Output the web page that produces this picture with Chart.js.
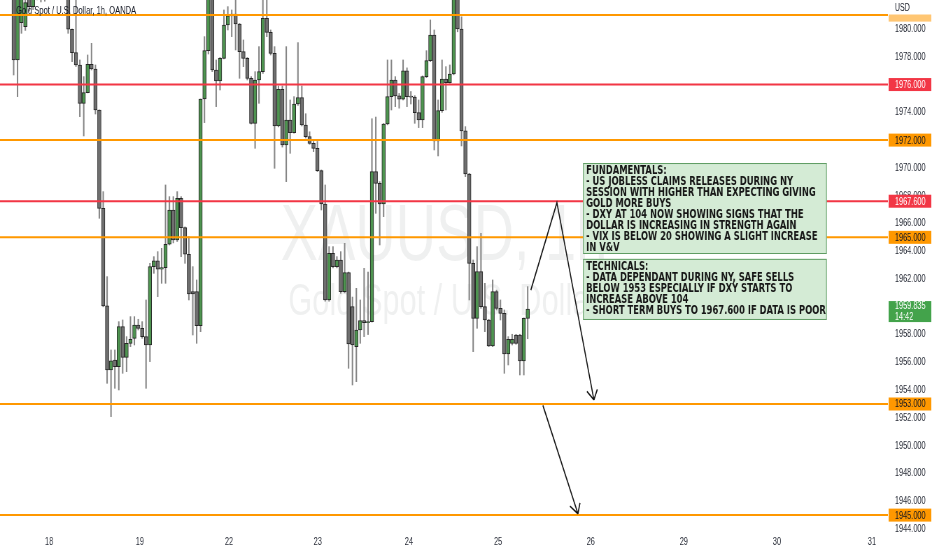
<!DOCTYPE html>
<html><head><meta charset="utf-8">
<script src="https://cdn.jsdelivr.net/npm/chart.js@4/dist/chart.umd.min.js"></script>
<style>
html,body{margin:0;padding:0;background:#fff;overflow:hidden;width:932px;height:550px}
#wrap{position:absolute;left:0;top:0;width:1332px;height:550px;transform:scaleX(0.6997);transform-origin:0 0}
canvas{display:block}
</style></head><body>
<div id="wrap"><canvas id="c" width="1332" height="550"></canvas></div>
<script>
// ---------------- DATA ----------------
const firstBar = 3; // hourly bar index of the first candle
const opens = [
 1983.5,1977.77,1980.46,1980.17,1982.3,1981.61,1982.5,1983.2,1982.6,1983.0,
 1984.2,1983.8,1984.3,1984.0,1983.0,1979.98,1978.30,1977.41,1974.65,1975.42,
 1977.46,1977.12,1974.17,1967.09,1960.06,1955.45,1956.17,1955.69,1958.57,1956.36,
 1957.37,1957.73,1958.69,1958.45,1957.85,1957.25,1962.89,1963.30,1962.70,1962.82,
 1964.50,1966.97,1964.81,1967.81,1965.70,1963.78,1961.09,1961.09,1958.64,1974.96,
 1978.44,1982.5,1977.05,1976.26,1977.89,1980.29,1980.94,1981.08,1980.36,1978.37,
 1977.89,1976.45,1973.21,1976.33,1976.93,1980.77,1979.76,1978.25,1973.02,1975.66,
 1971.65,1973.45,1972.54,1974.60,1975.06,1973.09,1972.25,1971.77,1971.41,1969.80,
 1967.40,1960.49,1963.85,1962.89,1963.37,1961.09,1962.46,1960.01,1957.13,1958.33,
 1959.00,1958.86,1958.93,1969.73,1968.89,1967.40,1973.16,1975.13,1976.33,1975.18,
 1974.94,1976.98,1975.13,1975.10,1973.98,1973.45,1976.57,1977.72,1979.57,1971.94,
 1974.12,1976.40,1976.14,1976.76,1982.3,1980.00,1972.66,1969.56,1963.13,1959.17,
 1962.53,1960.01,1959.05,1957.18,1961.09,1959.89,1959.53,1956.60,1957.37,1957.97,
 1957.97,1956.10,1959.17
];
const highs = [
 1984.0,1983.0,1983.0,1982.5,1983.0,1983.2,1983.6,1984.0,1983.4,1984.5,
 1985.0,1984.6,1985.2,1984.4,1984.0,1980.00,1982.5,1977.77,1976.57,1978.13,
 1978.97,1977.41,1974.17,1968.29,1962.17,1956.89,1956.89,1958.93,1959.05,1957.85,
 1959.29,1959.29,1959.10,1958.93,1960.49,1963.13,1963.61,1963.97,1964.21,1968.77,
 1967.93,1967.93,1968.29,1967.93,1965.75,1965.05,1962.89,1961.93,1974.96,1979.45,
 1984.0,1983.5,1977.77,1977.95,1981.37,1981.61,1981.37,1982.5,1980.40,1979.21,
 1977.95,1976.57,1976.93,1978.73,1982.3,1982.2,1979.93,1978.73,1975.90,1975.90,
 1978.73,1974.89,1975.13,1979.02,1975.90,1973.90,1972.60,1971.90,1971.90,1969.85,
 1968.77,1964.33,1964.33,1963.61,1963.97,1964.57,1962.50,1960.70,1961.33,1960.49,
 1962.77,1962.50,1973.54,1973.66,1969.01,1973.20,1977.77,1977.77,1976.57,1975.36,
 1977.77,1977.20,1975.50,1975.20,1974.89,1976.62,1978.44,1980.65,1979.93,1974.89,
 1977.77,1977.29,1977.41,1983.5,1983.0,1980.88,1972.97,1969.61,1963.37,1964.33,
 1965.29,1961.69,1959.10,1961.93,1961.20,1960.49,1959.77,1957.85,1958.02,1958.02,
 1958.02,1959.20,1961.45
];
const lows = [
 1976.69,1975.13,1979.69,1979.9,1981.3,1981.4,1982.1,1981.95,1982.0,1982.7,
 1983.5,1983.0,1983.6,1982.6,1979.69,1977.65,1977.3,1973.69,1972.30,1975.40,
 1977.05,1973.88,1966.37,1960.00,1954.49,1952.09,1954.13,1954.01,1955.21,1955.33,
 1957.13,1957.25,1958.33,1957.73,1954.13,1956.05,1962.41,1960.73,1961.69,1961.69,
 1964.45,1964.60,1964.70,1963.61,1963.13,1960.49,1957.97,1957.37,1958.21,1973.26,
 1978.2,1976.93,1974.41,1975.61,1977.85,1979.93,1979.45,1978.49,1976.45,1977.29,
 1976.33,1973.16,1971.41,1974.65,1976.80,1979.45,1978.13,1969.97,1972.95,1971.50,
 1969.01,1971.05,1972.50,1974.50,1973.02,1972.15,1971.70,1971.17,1969.73,1966.97,
 1960.40,1960.40,1962.80,1962.80,1960.97,1961.00,1955.57,1954.37,1954.61,1957.37,
 1957.85,1958.00,1958.90,1966.73,1964.45,1966.49,1973.10,1974.17,1974.41,1974.30,
 1974.89,1974.41,1974.60,1973.21,1972.90,1972.90,1976.50,1977.65,1971.29,1970.86,
 1974.00,1974.17,1976.09,1976.70,1979.80,1971.58,1969.37,1960.49,1956.77,1958.45,
 1959.89,1958.21,1957.13,1957.13,1959.77,1959.05,1955.21,1955.81,1957.25,1957.30,
 1955.09,1955.09,1957.70
];
const closes = [
 1977.77,1982.5,1982.4,1981.9,1981.61,1982.5,1983.2,1982.6,1983.0,1984.2,
 1983.8,1984.3,1984.0,1983.0,1979.98,1978.30,1977.41,1974.65,1975.42,1977.46,
 1977.12,1974.17,1967.09,1960.06,1955.45,1956.10,1955.69,1958.57,1956.36,1957.37,
 1957.66,1958.69,1958.45,1957.85,1957.25,1962.89,1963.30,1962.70,1962.82,1964.50,
 1966.97,1964.81,1967.81,1965.70,1963.78,1960.92,1960.92,1958.64,1974.96,1978.44,
 1982.5,1977.05,1976.26,1977.89,1980.29,1980.94,1981.08,1980.36,1978.37,1977.89,
 1976.45,1973.21,1976.33,1976.93,1980.77,1979.76,1978.25,1973.02,1975.66,1971.65,
 1973.45,1972.54,1974.60,1975.06,1973.09,1972.25,1971.77,1971.41,1969.80,1967.40,
 1960.49,1963.85,1962.89,1963.37,1961.09,1962.46,1957.32,1957.25,1958.33,1959.00,
 1958.86,1958.93,1969.73,1968.89,1967.40,1973.16,1975.13,1976.33,1975.18,1974.94,
 1976.98,1975.13,1975.10,1973.98,1973.45,1976.57,1977.72,1979.57,1971.94,1974.12,
 1976.40,1976.14,1976.76,1982.3,1980.00,1972.66,1969.56,1963.13,1959.17,1962.53,
 1960.01,1959.05,1957.18,1961.09,1959.89,1959.53,1956.60,1957.66,1957.66,1957.37,
 1956.10,1959.17,1959.835
];
const dayLabels  = ['18','19','22','23','24','25','26','29','30','31'];
const dayTickPos = [12.1,35.4,58.3,81.1,104.5,127.4,151.2,175.1,199.0,223.4];
const priceTicks = [1944,1946,1948,1950,1952,1954,1956,1958,1960,1962,1964,1966,1968,1970,1972,1974,1976,1978,1980];
const levelValues = [1981, 1976, 1972, 1967.6, 1965, 1953, 1945];
const lastPrice = 1959.835;
const countdown = '14:42';
const arrowA = [[135.8,1961.2],[142.5,1967.5],[152.0,1953.3]];
const arrowB = [[138.9,1952.9],[147.9,1945.1]];
const titleText = 'Gold Spot / U.S. Dollar, 1h, OANDA';
const watermark1 = 'XAUUSD, 1h';
const watermark2 = 'Gold Spot / U.S. Dollar';
const notes = [
 {x0:149.2, x1:211.8, yTop:1970.35, yBottom:1963.8, lines:[
  'FUNDAMENTALS:',
  '- US JOBLESS CLAIMS RELEASES DURING NY',
  'SESSION WITH HIGHER THAN EXPECTING GIVING',
  'GOLD MORE BUYS',
  '- DXY AT 104 NOW SHOWING SIGNS THAT THE',
  'DOLLAR IS INCREASING IN STRENGTH AGAIN',
  '- VIX IS BELOW 20 SHOWING A SLIGHT INCREASE',
  'IN V&V']},
 {x0:149.2, x1:211.8, yTop:1963.45, yBottom:1959.05, lines:[
  'TECHNICALS:',
  '- DATA DEPENDANT DURING NY, SAFE SELLS',
  'BELOW 1953 ESPECIALLY IF DXY STARTS TO',
  'INCREASE ABOVE 104',
  '- SHORT TERM BUYS TO 1967.600 IF DATA IS POOR']}
];

// ---------------- STYLE ----------------
const S = 932/1332;
const FAM = '"Liberation Sans", Arial, sans-serif';
const ORANGE = '#ff9800', RED = '#f23645';
const levelStyle = [ORANGE, RED, ORANGE, RED, ORANGE, ORANGE, ORANGE];
const levelHiddenLabel = [true, false, false, false, false, false, false];
const UP = '#4e9450', DOWN = '#6f6f6f', EDGE = '#262626', WICK = '#858585';
const TXT = '#2a2e39';

const idx = opens.map((_, k) => firstBar + k);
const wickData = idx.map((x, k) => ({x, y:[lows[k], highs[k]]}));
const bodyData = idx.map((x, k) => ({x, y:[opens[k], closes[k]]}));
const bodyColors = idx.map((_, k) => closes[k] >= opens[k] ? UP : DOWN);

const datasets = [
 {type:'bar', data:wickData, backgroundColor:WICK, barThickness:1.4, grouped:false, order:3, borderWidth:0},
 {type:'bar', data:bodyData, backgroundColor:bodyColors, borderColor:EDGE, borderWidth:1, borderSkipped:false,
  barThickness:5, grouped:false, order:2, minBarLength:1}
];
levelValues.forEach((v, i) => datasets.push({type:'line', data:[{x:-0.5,y:v},{x:227.5,y:v}],
  borderColor:levelStyle[i], borderWidth:2, pointRadius:0, order:1}));
[arrowA, arrowB].forEach(a => datasets.push({type:'line', data:a.map(p => ({x:p[0], y:p[1]})),
  borderColor:'#111', borderWidth:1.6, pointRadius:0, tension:0, order:0}));

function arrowHead(ctx, fx, fy, tx, ty) {
  const dx = (tx - fx) * S, dy = ty - fy, L = Math.hypot(dx, dy);
  const ux = dx / L, uy = dy / L, len = 11, ang = 0.5;
  for (const s of [-1, 1]) {
    const c = Math.cos(ang), sn = Math.sin(ang) * s;
    const rx = ux * c - uy * sn, ry = ux * sn + uy * c;
    ctx.moveTo(tx, ty); ctx.lineTo(tx - rx * len / S, ty - ry * len);
  }
}
function fitSize(ctx, text, weight, fam, target) {
  ctx.font = weight + ' 10px ' + fam;
  return 10 * target / ctx.measureText(text).width;
}

const extras = {
 id:'extras',
 beforeDatasetsDraw(chart) {
  const {ctx, chartArea:a} = chart;
  ctx.save();
  ctx.beginPath(); ctx.rect(a.left, a.top, a.right - a.left, a.bottom - a.top); ctx.clip();
  ctx.fillStyle = 'rgba(19,23,34,0.065)';
  ctx.textAlign = 'center'; ctx.textBaseline = 'middle';
  const cx = (a.left + a.right) / 2;
  ctx.font = '80px ' + FAM; ctx.fillText(watermark1, cx, 238);
  ctx.font = '44px ' + FAM; ctx.fillText(watermark2, cx, 303);
  ctx.restore();
 },
 afterDatasetsDraw(chart) {
  const {ctx, scales:{x, y}} = chart;
  ctx.save();
  ctx.strokeStyle = '#111'; ctx.lineWidth = 1.6; ctx.beginPath();
  for (const a of [arrowA, arrowB]) {
    const p = a[a.length - 2], q = a[a.length - 1];
    arrowHead(ctx, x.getPixelForValue(p[0]), y.getPixelForValue(p[1]), x.getPixelForValue(q[0]), y.getPixelForValue(q[1]));
  }
  ctx.stroke();
  const nf = '"DejaVu Sans", Verdana, sans-serif';
  const size = Math.min(12, fitSize(ctx, notes[1].lines[4], 'bold', nf, 343));
  for (const n of notes) {
    const x0 = x.getPixelForValue(n.x0), x1 = x.getPixelForValue(n.x1);
    const y0 = y.getPixelForValue(n.yTop), y1 = y.getPixelForValue(n.yBottom);
    ctx.fillStyle = '#d4ebd5'; ctx.fillRect(x0, y0, x1 - x0, y1 - y0);
    ctx.strokeStyle = '#5f9c63'; ctx.lineWidth = 1; ctx.strokeRect(x0 + 0.5, y0 + 0.5, x1 - x0 - 1, y1 - y0 - 1);
    ctx.fillStyle = '#161616'; ctx.font = 'bold ' + size.toFixed(2) + 'px ' + nf;
    ctx.textAlign = 'left'; ctx.textBaseline = 'middle';
    n.lines.forEach((t, i) => ctx.fillText(t, x0 + 4.5, y0 + 8 + i * 11));
  }
  const ts = fitSize(ctx, titleText, 'normal', FAM, 171.5);
  ctx.font = ts.toFixed(2) + 'px ' + FAM; ctx.fillStyle = '#131722';
  ctx.textAlign = 'left'; ctx.textBaseline = 'middle';
  ctx.fillText(titleText, 23, 11);
  ctx.restore();
 },
 afterDraw(chart) {
  const {ctx, chartArea:a, scales:{y}} = chart;
  ctx.save();
  ctx.font = '10.5px ' + FAM; ctx.textAlign = 'left'; ctx.textBaseline = 'middle';
  const L = a.right + 1, W = chart.width - a.right - 2;
  levelValues.forEach((v, i) => {
    const py = y.getPixelForValue(v);
    ctx.fillStyle = levelHiddenLabel[i] ? 'rgba(255,152,0,0.55)' : levelStyle[i];
    ctx.fillRect(L, py - 6.5, W, 13);
    if (levelHiddenLabel[i]) return;
    ctx.fillStyle = levelStyle[i] === RED ? '#fff' : '#131722';
    ctx.fillText(v.toFixed(3), a.right + 10, py + 0.5);
  });
  const pp = y.getPixelForValue(lastPrice);
  ctx.fillStyle = '#43a34b'; ctx.fillRect(L, pp - 8, W, 21);
  ctx.fillStyle = '#fff';
  ctx.fillText(lastPrice.toFixed(3), a.right + 10, pp - 2.5);
  ctx.fillText(countdown, a.right + 10, pp + 8);
  ctx.fillStyle = '#fff'; ctx.fillRect(L, 0, chart.width - L, 14.5);
  ctx.fillStyle = '#131722'; ctx.font = '10px ' + FAM;
  ctx.fillText('USD', a.right + 10, 8);
  ctx.restore();
 }
};

new Chart(document.getElementById('c'), {
 type:'bar',
 data:{datasets},
 options:{
  responsive:false, animation:false, events:[],
  layout:{padding:0},
  plugins:{legend:{display:false}, tooltip:{enabled:false}, title:{display:false}},
  scales:{
   x:{type:'linear', min:-0.5, max:227.5, offset:false,
      grid:{display:false, drawTicks:false}, border:{display:false},
      afterBuildTicks:s => { s.ticks = dayTickPos.map(v => ({value:v})); },
      ticks:{autoSkip:false, maxRotation:0, padding:3, color:TXT, font:{family:FAM, size:10.5},
             callback:(v, i) => dayLabels[i]},
      afterFit:s => { s.height = 17; s.paddingLeft = 0; s.paddingRight = 0; }},
   y:{type:'linear', position:'right', min:1943.712, max:1982.088,
      grid:{display:false, drawTicks:false}, border:{display:false},
      afterBuildTicks:s => { s.ticks = priceTicks.map(v => ({value:v})); },
      ticks:{autoSkip:false, padding:10, color:TXT, font:{family:FAM, size:10.5},
             callback:v => Number(v).toFixed(3)},
      afterFit:s => { s.width = 63; s.paddingTop = 0; s.paddingBottom = 0; }}
  }
 },
 plugins:[extras]
});
</script>
</body></html>
